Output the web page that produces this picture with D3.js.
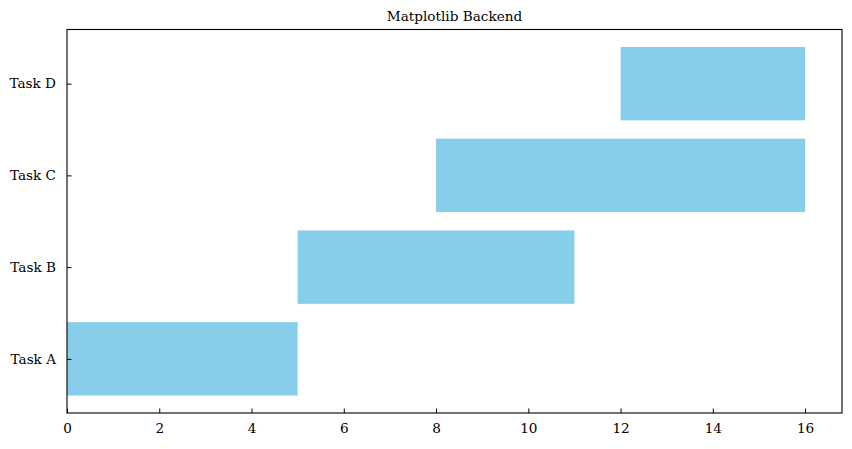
<!DOCTYPE html>
<html>
<head>
<meta charset="utf-8">
<script src="https://cdn.jsdelivr.net/npm/d3@7"></script>
<style>
  body { margin: 0; background: #fff; }
  svg text { font-family: "DejaVu Serif", serif; fill: #000; }
</style>
</head>
<body>
<svg id="chart"></svg>
<script>
var tasks = ["Task A", "Task B", "Task C", "Task D"]
var starts = [0, 5, 8, 12]
var durations = [5, 6, 8, 4]
var xTicks = [0, 2, 4, 6, 8, 10, 12, 14, 16]

var W = 852, H = 449
var margin = { top: 29.5, right: 10, bottom: 36, left: 67 },
    width = W - margin.left - margin.right,
    height = H - margin.top - margin.bottom

var svg = d3.select("#chart").attr("width", W).attr("height", H)
var g = svg.append("g").attr("transform", "translate(" + margin.left + "," + margin.top + ")")

var barH = 0.8
var xMax = d3.max(starts.map((s, i) => s + durations[i]))
var xScale = d3.scaleLinear().domain([0, xMax * 1.05]).range([0, width])
var yPad = (tasks.length - 1 + barH) * 0.05
var yScale = d3.scaleLinear().domain([-barH / 2 - yPad, tasks.length - 1 + barH / 2 + yPad]).range([height, 0])

// bars
g.selectAll(".bar").data(tasks).join("rect").attr("class", "bar")
    .attr("x", (d, i) => xScale(starts[i]))
    .attr("width", (d, i) => xScale(starts[i] + durations[i]) - xScale(starts[i]))
    .attr("y", (d, i) => yScale(i + barH / 2))
    .attr("height", (d, i) => yScale(i - barH / 2) - yScale(i + barH / 2))
    .attr("fill", "#87ceeb")

// x axis, ticks inside
var xAxis = g.append("g").attr("transform", "translate(0," + height + ")")
    .call(d3.axisBottom(xScale).tickValues(xTicks).tickFormat(d3.format("d")).tickSizeInner(-4.5).tickSizeOuter(0).tickPadding(10))
xAxis.select(".domain").remove()
xAxis.selectAll("text").attr("font-size", 13.6).attr("font-family", "DejaVu Serif")

// y axis
var yAxis = g.append("g")
    .call(d3.axisLeft(yScale).tickValues(d3.range(tasks.length)).tickFormat(i => tasks[i]).tickSizeInner(-4.5).tickSizeOuter(0).tickPadding(11))
yAxis.select(".domain").remove()
yAxis.selectAll("text").attr("font-size", 13.6).attr("font-family", "DejaVu Serif")
g.selectAll(".tick line").attr("stroke", "#000").attr("stroke-width", 1)

// frame
g.append("rect").attr("width", width).attr("height", height)
    .attr("fill", "none").attr("stroke", "#000").attr("stroke-width", 1.1)

// title
svg.append("text").attr("x", margin.left + width / 2).attr("y", margin.top - 9)
    .attr("text-anchor", "middle").attr("font-size", 13.6).text("Matplotlib Backend")
</script>
</body>
</html>
